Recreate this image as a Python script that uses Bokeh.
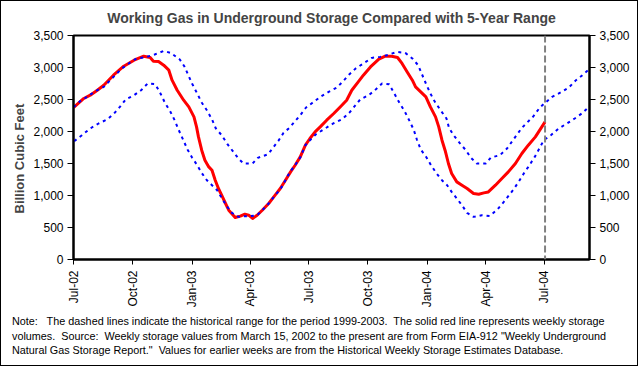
import math
import pandas as pd
from bokeh.plotting import figure
from bokeh.layouts import column
from bokeh.models import Range1d, LinearAxis, FixedTicker, Span, Title, Div, NumeralTickFormatter
from bokeh.embed import file_html
from bokeh.resources import INLINE

# ---- data ----
storage_dates = [
    "2002-07-01", "2002-07-17", "2002-07-27", "2002-08-07", "2002-08-17", "2002-09-01",
    "2002-09-17", "2002-10-03", "2002-10-18", "2002-10-28", "2002-11-02", "2002-11-10",
    "2002-11-18", "2002-11-26", "2002-12-01", "2002-12-09", "2002-12-19", "2002-12-27",
    "2003-01-04", "2003-01-08", "2003-01-11", "2003-01-16", "2003-01-21", "2003-01-27",
    "2003-02-01", "2003-02-06", "2003-02-11", "2003-02-16", "2003-02-22", "2003-02-27",
    "2003-03-09", "2003-03-17", "2003-03-24", "2003-03-30", "2003-04-05", "2003-04-12",
    "2003-04-20", "2003-04-30", "2003-05-10", "2003-05-18", "2003-05-26", "2003-06-03",
    "2003-06-10", "2003-06-18", "2003-06-26", "2003-07-03", "2003-07-11", "2003-07-19",
    "2003-07-29", "2003-08-09", "2003-08-19", "2003-08-29", "2003-09-06", "2003-09-16",
    "2003-09-24", "2003-10-05", "2003-10-18", "2003-10-28", "2003-11-07", "2003-11-16",
    "2003-11-23", "2003-12-01", "2003-12-09", "2003-12-14", "2003-12-22", "2003-12-30",
    "2004-01-06", "2004-01-14", "2004-01-19", "2004-01-24", "2004-01-29", "2004-02-03",
    "2004-02-08", "2004-02-16", "2004-02-24", "2004-03-03", "2004-03-13", "2004-03-21",
    "2004-03-29", "2004-04-05", "2004-04-16", "2004-04-26", "2004-05-06", "2004-05-17",
    "2004-05-27", "2004-06-06", "2004-06-17", "2004-06-27", "2004-07-02",
]
storage_bcf = [
    2375, 2516, 2567, 2645, 2723, 2880,
    3020, 3114, 3177, 3156, 3098, 3094,
    3036, 2958, 2802, 2645, 2489, 2384,
    2228, 2072, 1916, 1708, 1552, 1447,
    1395, 1239, 1109, 1005, 875, 770,
    656, 677, 708, 692, 641, 692,
    770, 875, 1005, 1109, 1239, 1369,
    1473, 1603, 1786, 1891, 1994, 2072,
    2177, 2281, 2384, 2489, 2645, 2775,
    2880, 3009, 3130, 3177, 3177, 3156,
    3063, 2931, 2802, 2697, 2619, 2541,
    2384, 2228, 2072, 1864, 1700, 1500,
    1344, 1213, 1161, 1109, 1031, 1020,
    1041, 1056, 1161, 1266, 1369, 1500,
    1656, 1786, 1916, 2072, 2150,
]

max_dates = [
    "2002-07-01", "2002-07-12", "2002-07-22", "2002-08-04", "2002-08-17", "2002-08-27",
    "2002-09-14", "2002-09-27", "2002-10-07", "2002-10-23", "2002-11-04", "2002-11-18",
    "2002-11-29", "2002-12-13", "2002-12-20", "2003-01-01", "2003-01-09", "2003-01-16",
    "2003-01-24", "2003-02-01", "2003-02-07", "2003-02-16", "2003-02-25", "2003-03-05",
    "2003-03-14", "2003-03-22", "2003-04-05", "2003-04-13", "2003-04-29", "2003-05-07",
    "2003-05-15", "2003-05-23", "2003-06-01", "2003-06-09", "2003-06-18", "2003-06-27",
    "2003-07-09", "2003-07-19", "2003-08-01", "2003-08-14", "2003-08-24", "2003-09-02",
    "2003-09-12", "2003-09-24", "2003-10-07", "2003-10-20", "2003-11-01", "2003-11-15",
    "2003-11-28", "2003-12-09", "2003-12-18", "2003-12-30", "2004-01-06", "2004-01-13",
    "2004-01-21", "2004-01-31", "2004-02-04", "2004-02-11", "2004-02-21", "2004-03-01",
    "2004-03-09", "2004-03-18", "2004-04-01", "2004-04-09", "2004-04-23", "2004-05-04",
    "2004-05-12", "2004-05-27", "2004-06-14", "2004-06-24", "2004-07-02", "2004-07-13",
    "2004-07-28", "2004-08-08", "2004-08-19", "2004-08-29", "2004-09-08",
]
range_max = [
    2380, 2479, 2541, 2630, 2697, 2802,
    2984, 3078, 3141, 3166, 3203, 3259,
    3228, 3125, 3020, 2750, 2594, 2453,
    2333, 2188, 2047, 1942, 1802, 1697,
    1578, 1500, 1500, 1588, 1645, 1750,
    1853, 1978, 2056, 2150, 2255, 2375,
    2463, 2541, 2619, 2688, 2791, 2891,
    2984, 3063, 3150, 3166, 3197, 3244,
    3228, 3141, 3036, 2750, 2594, 2463,
    2344, 2203, 2056, 1942, 1813, 1708,
    1588, 1500, 1500, 1594, 1630, 1734,
    1848, 2056, 2239, 2375, 2447, 2541,
    2619, 2688, 2802, 2880, 2969,
]

min_dates = [
    "2002-07-02", "2002-07-14", "2002-07-27", "2002-08-09", "2002-08-23", "2002-09-02",
    "2002-09-11", "2002-09-20", "2002-10-03", "2002-10-14", "2002-10-24", "2002-11-05",
    "2002-11-13", "2002-11-20", "2002-11-28", "2002-12-05", "2002-12-11", "2002-12-18",
    "2002-12-25", "2003-01-01", "2003-01-09", "2003-01-16", "2003-01-24", "2003-02-01",
    "2003-02-09", "2003-02-16", "2003-02-24", "2003-03-04", "2003-03-14", "2003-03-25",
    "2003-04-01", "2003-04-12", "2003-04-20", "2003-04-30", "2003-05-10", "2003-05-18",
    "2003-05-26", "2003-06-02", "2003-06-10", "2003-06-18", "2003-06-26", "2003-07-03",
    "2003-07-12", "2003-07-24", "2003-08-08", "2003-08-22", "2003-09-02", "2003-09-19",
    "2003-10-02", "2003-10-12", "2003-10-23", "2003-11-03", "2003-11-11", "2003-11-19",
    "2003-11-27", "2003-12-04", "2003-12-11", "2003-12-16", "2003-12-22", "2003-12-31",
    "2004-01-07", "2004-01-15", "2004-01-24", "2004-02-01", "2004-02-08", "2004-02-16",
    "2004-02-24", "2004-03-03", "2004-03-13", "2004-03-26", "2004-04-07", "2004-04-19",
    "2004-04-29", "2004-05-14", "2004-05-22", "2004-05-30", "2004-06-06", "2004-06-16",
    "2004-06-24", "2004-06-30", "2004-07-11", "2004-07-23", "2004-08-05", "2004-08-17",
    "2004-08-28", "2004-09-08",
]
range_min = [
    1848, 1942, 2047, 2125, 2192, 2281,
    2384, 2500, 2567, 2645, 2750, 2739,
    2594, 2447, 2317, 2177, 2031, 1875,
    1719, 1594, 1473, 1353, 1239, 1161,
    1083, 963, 833, 728, 666, 677,
    677, 692, 770, 875, 1005, 1094,
    1239, 1369, 1473, 1594, 1786, 1864,
    1953, 2031, 2125, 2192, 2291, 2500,
    2567, 2645, 2750, 2739, 2594, 2447,
    2317, 2177, 2031, 1875, 1719, 1594,
    1473, 1353, 1239, 1161, 1056, 953,
    848, 728, 666, 692, 681, 781,
    900, 1094, 1213, 1344, 1447, 1603,
    1750, 1864, 1942, 2047, 2125, 2203,
    2281, 2384,
]

tick_dates = ["2002-07-01", "2002-10-01", "2003-01-01", "2003-04-01", "2003-07-01",
              "2003-10-01", "2004-01-01", "2004-04-01", "2004-07-01"]
tick_labels = ["Jul-02", "Oct-02", "Jan-03", "Apr-03", "Jul-03",
               "Oct-03", "Jan-04", "Apr-04", "Jul-04"]
y_ticks = [0, 500, 1000, 1500, 2000, 2500, 3000, 3500]
x_start, x_end = "2002-07-01", "2004-09-09"
current_week = "2004-07-02"

title_text = "Working Gas in Underground Storage Compared with 5-Year Range"
y_label_text = "Billion Cubic Feet"
note_lines = [
    "Note:   The dashed lines indicate the historical range for the period 1999-2003.  The solid red line represents weekly storage",
    "volumes.  Source:  Weekly storage values from March 15, 2002 to the present are from Form EIA-912 \"Weekly Underground",
    "Natural Gas Storage Report.\"  Values for earlier weeks are from the Historical Weekly Storage Estimates Database.",
]


def ms(dates):
    epoch = pd.Timestamp("1970-01-01")
    return [float((pd.Timestamp(d) - epoch) / pd.Timedelta(milliseconds=1)) for d in dates]


FONT = "Liberation Sans"

# whole chart sits inside a 1px black frame (column border), so sizes are 636 x 364 inside
p = figure(width=636, height=309, output_backend="svg", toolbar_location=None,
           x_range=Range1d(ms([x_start])[0], ms([x_end])[0]),
           y_range=Range1d(0, 3500),
           min_border_left=72, min_border_right=48, min_border_top=34, min_border_bottom=50)
p.title.text = title_text
p.title.align = "center"
p.title.vertical_align = "top"
p.title.text_font = FONT
p.title.text_font_size = "14px"
p.title.text_font_style = "bold"
p.title.standoff = 16
p.xgrid.visible = False
p.ygrid.visible = False
p.outline_line_color = "black"
p.outline_line_width = 2
p.outline_line_alpha = 1
p.background_fill_color = "white"
p.border_fill_color = "white"

tick_ms = ms(tick_dates)
xa = p.xaxis[0]
xa.ticker = FixedTicker(ticks=tick_ms)
xa.major_label_overrides = {t: l for t, l in zip(tick_ms, tick_labels)}
xa.major_label_orientation = math.pi / 2
xa.minor_tick_line_color = None
xa.major_tick_out = 5
xa.major_tick_in = 0
xa.axis_line_width = 2
xa.major_label_standoff = 6
xa.major_label_text_font = FONT
xa.major_label_text_font_size = "12px"
xa.major_label_text_color = "black"

ya = p.yaxis[0]
ra = LinearAxis()
p.add_layout(ra, "right")
for ax in (ya, ra):
    ax.ticker = FixedTicker(ticks=y_ticks)
    ax.formatter = NumeralTickFormatter(format="0,0")
    ax.minor_tick_line_color = None
    ax.major_tick_out = 6
    ax.major_tick_in = 0
    ax.axis_line_width = 2
    ax.major_label_standoff = 4
    ax.major_label_text_font = FONT
    ax.major_label_text_font_size = "12px"
    ax.major_label_text_color = "black"

p.add_layout(Title(text=y_label_text, align="left", offset=46, standoff=8,
                   text_font=FONT, text_font_size="13px", text_font_style="bold"), "left")

p.line(ms(storage_dates), storage_bcf, line_color="#FF0000", line_width=3, line_join="round")
p.line(ms(max_dates), range_max, line_color="#0000FF", line_width=2, line_dash="3 4")
p.line(ms(min_dates), range_min, line_color="#0000FF", line_width=2, line_dash="3 4")

p.add_layout(Span(location=ms([current_week])[0], dimension="height",
                  line_color="#808080", line_width=2, line_dash="7 3"))

notes = Div(text="\n".join(note_lines), width=636, height=55, margin=0,
            styles={"font-family": "'Liberation Sans', Arial, sans-serif", "font-size": "10.8px",
                    "line-height": "14.5px", "white-space": "pre", "padding-left": "11px",
                    "padding-top": "4px", "color": "black", "box-sizing": "border-box"})

layout = column(p, notes, spacing=0,
                styles={"border": "1px solid black", "background-color": "white"})
open("out.html", "w").write(file_html(layout, INLINE))
